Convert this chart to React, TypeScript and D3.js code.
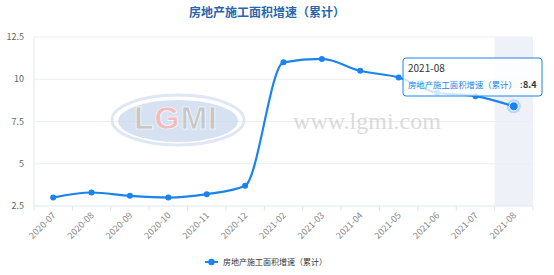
import React from "react";
import * as d3 from "d3";

const categories = ["2020-07","2020-08","2020-09","2020-10","2020-11","2020-12","2021-02","2021-03","2021-04","2021-05","2021-06","2021-07","2021-08"];
const values = [3.0,3.3,3.1,3.0,3.2,3.7,11.0,11.2,10.5,10.1,9.2,9.0,8.4];
const yTicks = [2.5,5,7.5,10,12.5];
const title = "房地产施工面积增速（累计）";
const seriesName = "房地产施工面积增速（累计）";
const hoverIndex = 12;

const W = 554, H = 275;
const M = { left: 34, right: 21, top: 37, bottom: 69 };
const BLUE = "#1a84ee";
const FONT = "'Noto Sans CJK SC', 'Noto Sans', sans-serif";

export default function App() {
  const x = d3.scaleBand<string>().domain(categories).range([M.left, W - M.right]);
  const y = d3.scaleLinear().domain([2.5, 12.5]).range([H - M.bottom, M.top]);
  const cx = (c: string) => (x(c) as number) + x.bandwidth() / 2;
  const line = d3.line<number>().x((_, i) => cx(categories[i])).y(d => y(d)).curve(d3.curveMonotoneX);
  const bottom = H - M.bottom;
  const hc = categories[hoverIndex];
  const hx = cx(hc), hy = y(values[hoverIndex]);
  const bounds = categories.map(c => x(c) as number).concat([W - M.right]);
  return (
    <svg width={W} height={H} style={{ position: "absolute", left: 0, top: 0, fontFamily: FONT }}>
      <rect x={0} y={0} width={W} height={H} fill="#fff" />
      <text x={267} y={17} textAnchor="middle" fontSize={12} fontWeight="bold" fill="#2a64ad">{title}</text>
      {/* hover shadow */}
      <rect x={x(hc) as number} y={M.top} width={x.bandwidth()} height={bottom - M.top} fill="#eef2f8" />
      {/* grid */}
      {yTicks.map(t => (
        <g key={t}>
          <line x1={M.left} x2={W - M.right} y1={y(t)} y2={y(t)} stroke={t === 2.5 ? "#dfe5f0" : "#eceef2"} strokeWidth={1} />
          <text x={M.left - 10} y={y(t) + 3} textAnchor="end" fontSize={9} fill="#666">{t}</text>
        </g>
      ))}
      <line x1={M.left} x2={M.left} y1={M.top} y2={bottom} stroke="#dfe5f0" />
      {bounds.map((b, i) => (
        <line key={i} x1={b} x2={b} y1={bottom} y2={bottom + 5} stroke="#dfe5f0" />
      ))}
      {categories.map(c => (
        <text key={c} transform={`translate(${cx(c) + 3},${bottom + 10}) rotate(-45)`} textAnchor="end" fontSize={9} fill="#888">{c}</text>
      ))}
      {/* watermark */}
      <g opacity={0.75}>
        <ellipse cx={178} cy={120} rx={66} ry={25} fill="none" stroke="#d3e0f0" strokeWidth={3} />
        <ellipse cx={178} cy={121} rx={60} ry={21} fill="#c9d9ee" />
        <text x={176} y={129} textAnchor="middle" fontSize={32} fontWeight="bold" fontFamily="'Liberation Sans', sans-serif" fill="#b5b5b5" letterSpacing={1} stroke="#fff" strokeWidth={0.6}>
          L<tspan fill="#f2a3a8">G</tspan>MI
        </text>
        <text x={367} y={129} textAnchor="middle" fontSize={24} fontFamily="'Liberation Serif', serif" fill="#cfcfcf">www.lgmi.com</text>
      </g>
      {/* line */}
      <path d={line(values) as string} fill="none" stroke={BLUE} strokeWidth={2.2} />
      {values.map((v, i) => i === hoverIndex ? null : (
        <circle key={i} cx={cx(categories[i])} cy={y(v)} r={3} fill={BLUE} />
      ))}
      <circle cx={hx} cy={hy} r={7} fill={BLUE} opacity={0.25} />
      <circle cx={hx} cy={hy} r={4.5} fill={BLUE} stroke="#fff" strokeWidth={1} />
      {/* tooltip */}
      <g>
        <rect x={403} y={58} width={139} height={38} rx={3} fill="rgba(255,255,255,0.8)" stroke={BLUE} strokeWidth={1} />
        <text x={408} y={72} fontSize={10} fill="#333">{hc}</text>
        <text x={408} y={88} fontSize={8.4} fill={BLUE}>{seriesName}</text>
        <text x={520} y={88} fontSize={9} fill="#333">:</text>
        <text x={523} y={88} fontSize={9} fontWeight="bold" fill="#333">{values[hoverIndex]}</text>
      </g>
      {/* legend */}
      <g>
        <line x1={205} x2={218} y1={262} y2={262} stroke={BLUE} strokeWidth={2} />
        <circle cx={211.5} cy={262} r={3.2} fill={BLUE} />
        <text x={223} y={265} fontSize={8} fill="#333">{seriesName}</text>
      </g>
    </svg>
  );
}
